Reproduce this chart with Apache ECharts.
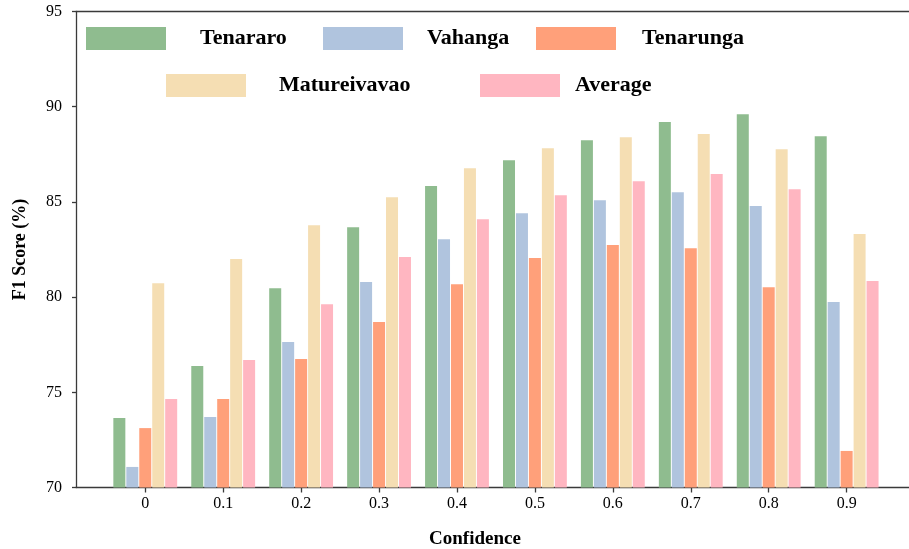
<!DOCTYPE html>
<html>
<head>
<meta charset="utf-8">
<script src="https://cdn.jsdelivr.net/npm/echarts@6/dist/echarts.min.js"></script>
<style>
  html, body { margin: 0; padding: 0; background: #fff; }
  #chart { width: 909px; height: 549px; }
</style>
</head>
<body>
<div id="chart"></div>
<script>
// Confidence thresholds on the x axis
const categories = ['0', '0.1', '0.2', '0.3', '0.4', '0.5', '0.6', '0.7', '0.8', '0.9'];

// F1 scores (%) per confidence threshold
const tenararo     = [73.65, 76.38, 80.47, 83.67, 85.83, 87.19, 88.24, 89.19, 89.61, 88.45];
const vahanga      = [71.08, 73.70, 77.64, 80.79, 83.04, 84.41, 85.09, 85.51, 84.78, 79.74];
const tenarunga    = [73.12, 74.65, 76.75, 78.69, 80.68, 82.05, 82.73, 82.57, 80.52, 71.92];
const matureivavao = [80.73, 82.00, 83.78, 85.25, 86.77, 87.82, 88.40, 88.56, 87.77, 83.31];
const average      = [74.65, 76.69, 79.63, 82.10, 84.09, 85.35, 86.09, 86.46, 85.67, 80.84];

// y axis ticks
const yMin = 70, yMax = 95, yStep = 5;

const seriesDefs = [
  { name: 'Tenararo',     data: tenararo,     color: '#8FBC8F' },
  { name: 'Vahanga',      data: vahanga,      color: '#B0C4DE' },
  { name: 'Tenarunga',    data: tenarunga,    color: '#FFA07A' },
  { name: 'Matureivavao', data: matureivavao, color: '#F5DEB3' },
  { name: 'Average',      data: average,      color: '#FFB6C1' }
];

// legend placement: [left, top, gap between swatch and text]
const legendPos = {
  'Tenararo':     [86, 27, 29],
  'Vahanga':      [323, 27, 19],
  'Tenarunga':    [536, 27, 21],
  'Matureivavao': [166, 74, 28],
  'Average':      [480, 74, 10]
};

const serif = '"Liberation Serif", "Times New Roman", serif';
const axisColor = '#3a3a3a';
const plotTop = 11.5, plotBottom = 549 - 487.5;

const chart = echarts.init(document.getElementById('chart'), null, { renderer: 'canvas' });

chart.setOption({
  animation: false,
  backgroundColor: '#fff',
  grid: [
    // frame: left spine, bottom and top spines
    { left: 76, right: -20, top: plotTop, bottom: plotBottom, containLabel: false, outerBoundsMode: 'none' },
    // bars
    { left: 106.3, right: 23.4, top: plotTop, bottom: plotBottom, containLabel: false, outerBoundsMode: 'none' }
  ],
  legend: seriesDefs.map(s => ({
    data: [s.name],
    left: legendPos[s.name][0],
    top: legendPos[s.name][1],
    padding: 0,
    icon: 'rect',
    itemWidth: 80,
    itemHeight: 23,
    selectedMode: false,
    textStyle: {
      fontFamily: serif,
      fontWeight: 'bold',
      fontSize: 22,
      color: '#000',
      padding: [0, 0, 0, legendPos[s.name][2]]
    }
  })),
  xAxis: [
    {
      gridIndex: 0, type: 'value', min: 0, max: 1, position: 'bottom',
      axisLine: { show: true, lineStyle: { color: axisColor, width: 1.3 } },
      axisTick: { show: false }, axisLabel: { show: false }, splitLine: { show: false }
    },
    {
      gridIndex: 0, type: 'value', min: 0, max: 1, position: 'top',
      axisLine: { show: true, lineStyle: { color: axisColor, width: 1.3 } },
      axisTick: { show: false }, axisLabel: { show: false }, splitLine: { show: false }
    },
    {
      gridIndex: 1, type: 'category', data: categories, position: 'bottom',
      axisLine: { show: false },
      axisTick: { show: true, alignWithLabel: true, length: 5, lineStyle: { color: axisColor, width: 1.3 } },
      axisLabel: { fontFamily: serif, fontSize: 16, color: '#000', margin: 8 },
      name: 'Confidence',
      nameLocation: 'middle',
      nameGap: 42,
      nameTextStyle: {
        fontFamily: serif, fontWeight: 'bold', fontSize: 19, color: '#000',
        padding: [0, 42, 0, 0]
      }
    }
  ],
  yAxis: [
    {
      gridIndex: 0, type: 'value', min: yMin, max: yMax, interval: yStep,
      axisLine: { show: true, lineStyle: { color: axisColor, width: 1.3 } },
      axisTick: { show: true, length: 4, lineStyle: { color: axisColor, width: 1.3 } },
      axisLabel: { fontFamily: serif, fontSize: 16, color: '#000', margin: 14 },
      splitLine: { show: false },
      name: 'F1 Score (%)',
      nameLocation: 'middle',
      nameGap: 47,
      nameTextStyle: { fontFamily: serif, fontWeight: 'bold', fontSize: 18, color: '#000' }
    },
    {
      gridIndex: 1, type: 'value', min: yMin, max: yMax, interval: yStep, show: false
    }
  ],
  series: seriesDefs.map(s => ({
    name: s.name,
    type: 'bar',
    xAxisIndex: 2,
    yAxisIndex: 1,
    data: s.data,
    barWidth: 12,
    barGap: '8%',
    itemStyle: { color: s.color }
  }))
});
</script>
</body>
</html>
